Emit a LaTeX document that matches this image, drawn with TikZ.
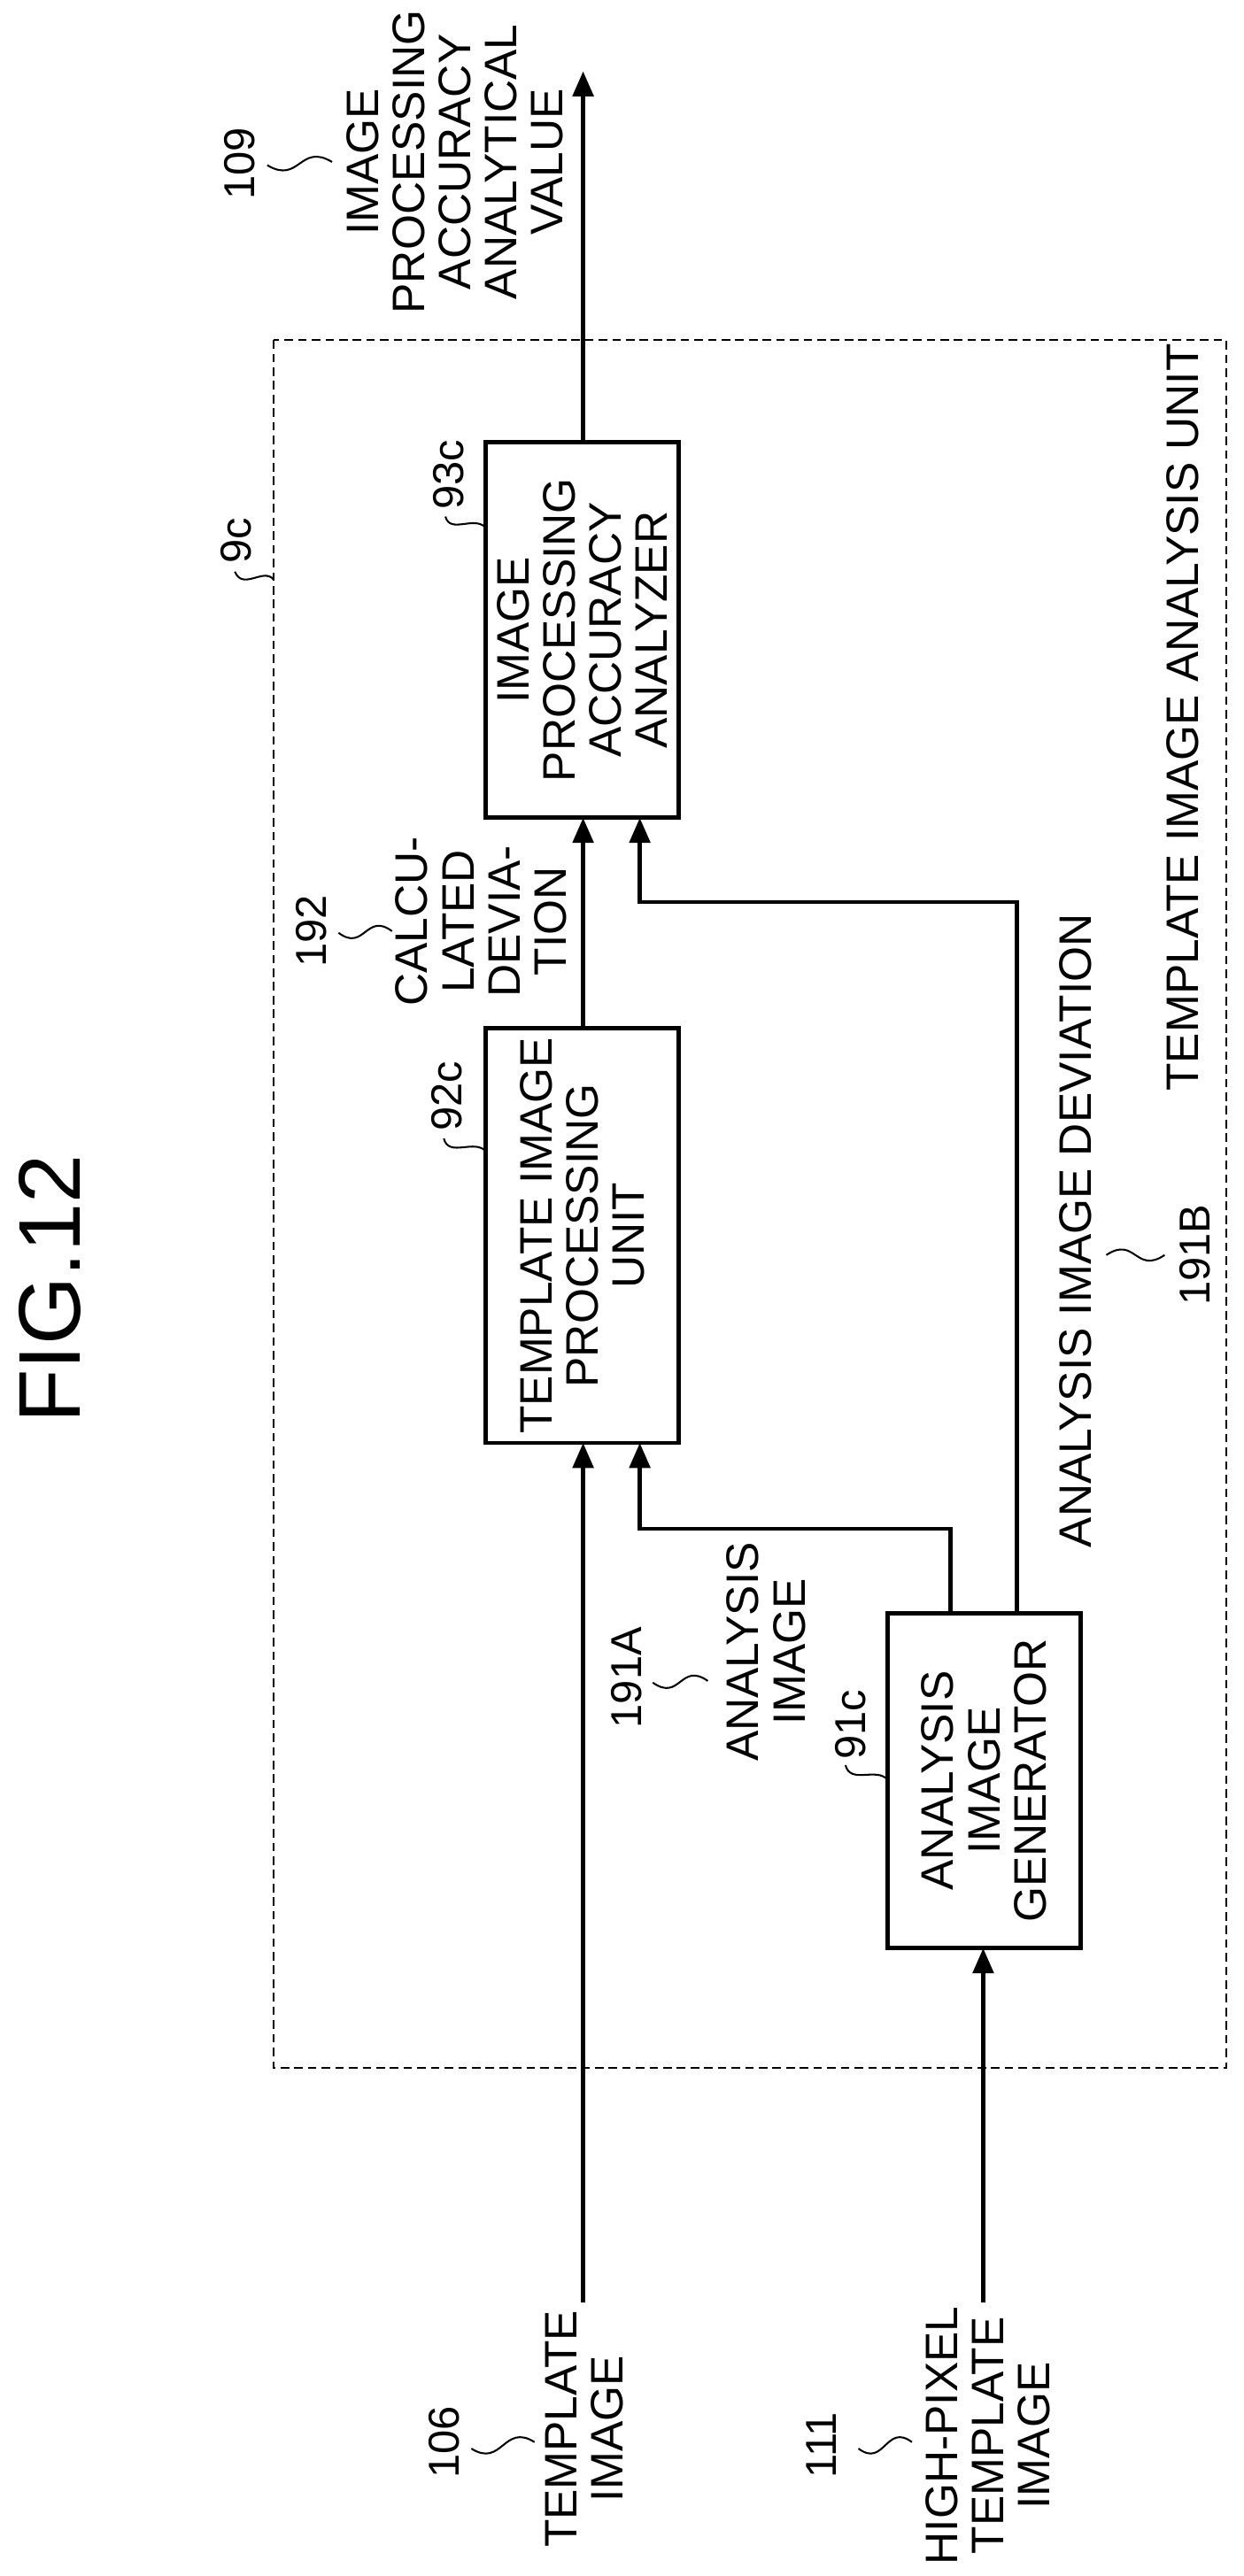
\documentclass[tikz,border=0pt]{standalone}
\usepackage{fontspec}
\setmainfont{Liberation Sans}
\usetikzlibrary{arrows.meta}
\begin{document}
\begin{tikzpicture}[x=0.5mm,y=-0.5mm,
  txt/.style={rotate=90,align=center,font=\fontsize{40}{40.5}\selectfont,inner sep=0},
  lab/.style={rotate=90,font=\fontsize{38}{40}\selectfont,inner sep=0},
  box/.style={draw,line width=3.8pt,inner sep=0,minimum width=119*0.5mm},
  arr/.style={line width=3.8pt,-{Triangle[length=22pt,width=18pt]}},
  sq/.style={line width=1.6pt}]
\useasboundingbox (0,0) rectangle (768,1590.7);
\node[rotate=90,font=\fontsize{77}{80}\selectfont,inner sep=0] (title) at (31,796) {FIG.12};
\draw[dash pattern=on 7.5pt off 4.5pt,line width=1.6pt] (169,210) rectangle (757,1277);
\node[box,minimum height=232*0.5mm] (b93) at (359.5,389) {};
\node[txt] at (b93) {IMAGE\\PROCESSING\\ACCURACY\\ANALYZER};
\node[box,minimum height=256*0.5mm] (b92) at (359.5,763) {};
\node[txt] at (b92) {TEMPLATE IMAGE\\PROCESSING\\UNIT};
\node[box,minimum height=207*0.5mm] (b91) at (607.5,1099.5) {};
\node[txt] at (b91) {ANALYSIS\\IMAGE\\GENERATOR};
% inputs
\node[txt] (t106) at (361,1500) {TEMPLATE\\IMAGE};
\node[txt] (t111) at (610,1504) {HIGH-PIXEL\\TEMPLATE\\IMAGE};
\node[lab] (n106) at (274,1508) {106};
\node[lab] (n111) at (507,1510) {111};
\coordinate (i106) at (360,1422);
\coordinate (i111) at (607,1422);
\draw[arr] (i106) -- (360,891);
\draw[arr] (i111) -- (607,1203);
\coordinate (c1) at (587,944);
\coordinate (c2) at (628,557);
\draw[arr] (587,996) -- (c1) -| (395,891);
\draw[arr] (628,996) -- (c2) -| (395,505);
\draw[arr] (360,635) -- (360,505);
\coordinate (out) at (360,44);
\draw[arr] (360,273) -- (out);
% labels
\node[txt] (t109) at (281,100) {IMAGE\\PROCESSING\\ACCURACY\\ANALYTICAL\\VALUE};
\node[lab] (n109) at (148,101) {109};
\draw[sq] (165,102) .. controls (185,114) and (185,88) .. (205,100);
\node[lab] (n9c) at (146,334) {9c};
\draw[sq] (145,353) .. controls (150,365) and (163,350) .. (169,358);
\node[lab] (n93) at (277,293) {93c};
\draw[sq] (275,319) .. controls (278,330) and (293,318) .. (300,326);
\node[txt] (t192) at (297,569) {CALCU-\\LATED\\DEVIA-\\TION};
\node[lab] (n192) at (192,575) {192};
\draw[sq] (209,576) .. controls (225,588) and (226,563) .. (242,575);
\node[lab] (n92) at (276,677) {92c};
\draw[sq] (274,703) .. controls (277,715) and (293,703) .. (300,711);
\node[txt] (t191a) at (473,1020) {ANALYSIS\\IMAGE};
\node[lab] (n191a) at (387,1036) {191A};
\draw[sq] (403,1039) .. controls (420,1051) and (420,1026) .. (437,1038);
\node[lab] (n91) at (525,1065) {91c};
\draw[sq] (522,1090) .. controls (525,1102) and (541,1091) .. (548,1099);
\node[txt] (t191b) at (664,760) {ANALYSIS IMAGE DEVIATION};
\node[lab] (n191b) at (738,775) {191B};
\draw[sq] (683,775) .. controls (701,763) and (701,787) .. (719,775);
\draw[sq] (291,1512) .. controls (310,1524) and (311,1496) .. (330,1508);
\draw[sq] (530,1512) .. controls (546,1524) and (547,1496) .. (563,1508);
\node[txt] (tunit) at (730,443) {TEMPLATE IMAGE ANALYSIS UNIT};
\end{tikzpicture}
\end{document}
